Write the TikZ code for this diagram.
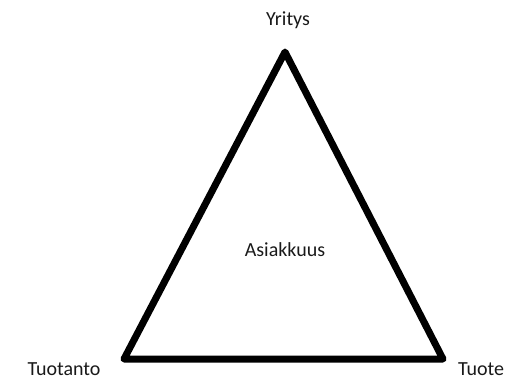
\documentclass[tikz,border=0pt]{standalone}
\usepackage{fontspec}
\setmainfont{Carlito}
\begin{document}
\begin{tikzpicture}[x=0.75pt,y=-0.75pt,
  lbl/.style={anchor=base,inner sep=0pt,text=black!90,font=\fontsize{15}{18}\selectfont},
  edge/.style={line width=5.25pt,line join=round,line cap=round}]
\useasboundingbox (0,0) rectangle (507,380);
\coordinate (top) at (285,52);
\coordinate (bl) at (124,359);
\coordinate (br) at (443,359);
\draw[edge] (top) -- (br) -- (bl) -- cycle;
\node[lbl] (yritys) at (288,25) {Yritys};
\node[lbl] (asiakkuus) at (285,256) {Asiakkuus};
\node[lbl] (tuotanto) at (64,375) {Tuotanto};
\node[lbl] (tuote) at (481,375) {Tuote};
\end{tikzpicture}
\end{document}
